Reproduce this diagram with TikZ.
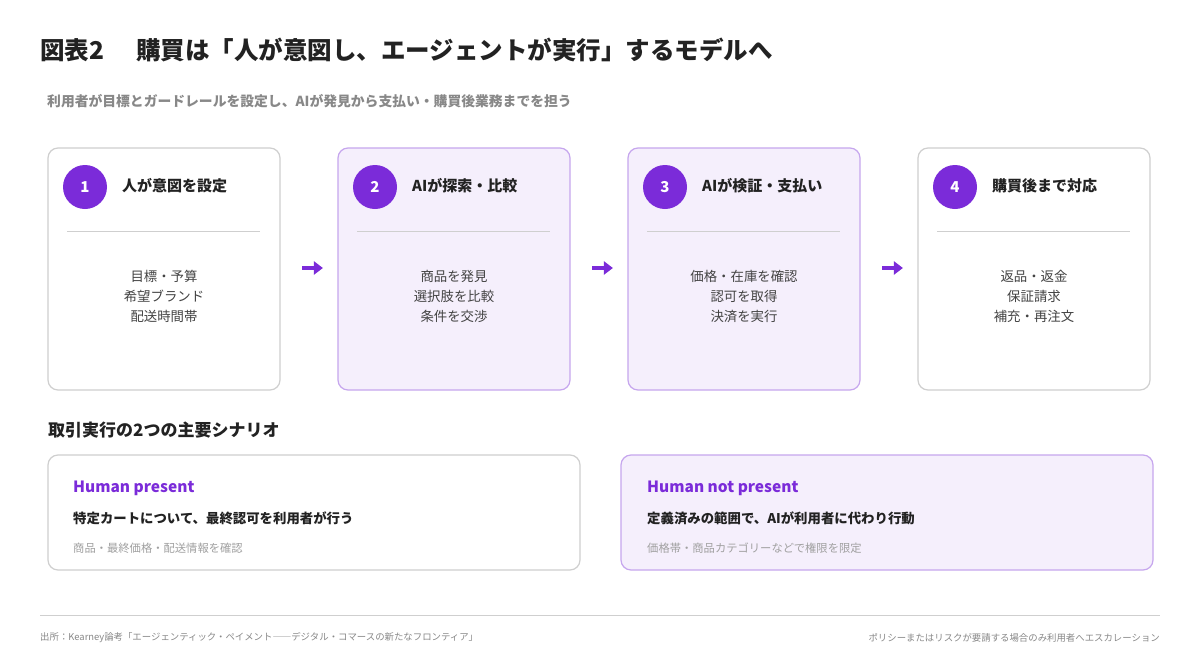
\documentclass[tikz,border=0pt]{standalone}
\usepackage{fontspec}
\usetikzlibrary{arrows.meta}
\setmainfont{Noto Sans CJK JP}
\begin{document}
\definecolor{pur}{HTML}{7B2BD9}
\definecolor{pfill}{HTML}{F5EFFC}
\definecolor{pline}{HTML}{C6A6EE}
\definecolor{gline}{HTML}{CFCFCF}
\definecolor{txt}{HTML}{222222}
\definecolor{gtxt}{HTML}{888888}
\begin{tikzpicture}[x=1pt,y=-1pt,
 card/.style={draw=gline,line width=1.2pt,rounded corners=10pt,fill=white},
 pcard/.style={draw=pline,line width=1.2pt,rounded corners=10pt,fill=pfill},
 num/.style={circle,fill=pur,minimum size=44pt,inner sep=0,text=white,font=\fontsize{15}{18}\selectfont\bfseries},
 head/.style={anchor=west,text=txt,font=\fontsize{15}{18}\selectfont\bfseries},
 body/.style={align=center,text=txt!85,font=\fontsize{13.4}{20}\selectfont},
 arr/.style={-{Triangle[length=9pt,width=13pt]},line width=4pt,pur},
 every node/.style={inner sep=0}]
\useasboundingbox (0,0) rectangle (1200,667);
\fill[white] (0,0) rectangle (1200,667);
\node[anchor=west,text=txt,font=\fontsize{24.5}{28}\selectfont\bfseries] (title) at (40,50) {図表2\hspace{32pt}購買は「人が意図し、エージェントが実行」するモデルへ};
\node[anchor=west,text=gtxt,font=\fontsize{13.8}{16}\selectfont\bfseries] (sub) at (47,101) {利用者が目標とガードレールを設定し、AIが発見から支払い・購買後業務までを担う};
\foreach \i/\x/\st/\h/\a/\b/\c in {1/48/card/人が意図を設定/目標・予算/希望ブランド/配送時間帯,
 2/338/pcard/AIが探索・比較/商品を発見/選択肢を比較/条件を交渉,
 3/628/pcard/AIが検証・支払い/価格・在庫を確認/認可を取得/決済を実行,
 4/918/card/購買後まで対応/返品・返金/保証請求/補充・再注文}{
 \draw[\st] (\x,148) rectangle (\x+232,390);
 \node[num] (n\i) at (\x+37,187) {\i};
 \node[head] (h\i) at (\x+74,186) {\h};
 \draw[gline,line width=0.8pt] (\x+19,231) -- (\x+212,231);
 \node[body] (b\i) at (\x+116,296) {\a\\\b\\\c};
 \coordinate (L\i) at (\x,268);
 \coordinate (R\i) at (\x+232,268);
}
\foreach \i/\j in {1/2,2/3,3/4}{
 \path (R\i) -- (L\j) coordinate[pos=0.38] (s\i) coordinate[pos=0.74] (e\i);
 \draw[arr] (s\i) -- (e\i);
}
\node[anchor=west,text=txt,font=\fontsize{17}{20}\selectfont\bfseries] (sec) at (48,430) {取引実行の2つの主要シナリオ};
\draw[card] (48,455) rectangle (580,570);
\draw[pcard] (621,455) rectangle (1153,570);
\foreach \x/\k/\t/\u/\v in {73/a/Human present/特定カートについて、最終認可を利用者が行う/商品・最終価格・配送情報を確認,
 647/b/Human not present/定義済みの範囲で、AIが利用者に代わり行動/価格帯・商品カテゴリーなどで権限を限定}{
 \node[anchor=west,text=pur,font=\fontsize{15.5}{18}\selectfont\bfseries] (t\k) at (\x,488) {\t};
 \node[anchor=west,text=txt,font=\fontsize{13.4}{16}\selectfont\bfseries] (u\k) at (\x,518) {\u};
 \node[anchor=west,text=gtxt!80,font=\fontsize{11.3}{13}\selectfont] (v\k) at (\x,548) {\v};
}
\draw[gline,line width=0.8pt] (40,615) -- (1160,615);
\node[anchor=west,text=gtxt,font=\fontsize{9.4}{11}\selectfont] (f1) at (40,638) {出所：Kearney論考「エージェンティック・ペイメント――デジタル・コマースの新たなフロンティア」};
\node[anchor=east,text=gtxt,font=\fontsize{9.4}{11}\selectfont] (f2) at (1160,638) {ポリシーまたはリスクが要請する場合のみ利用者へエスカレーション};
\end{tikzpicture}
\end{document}
